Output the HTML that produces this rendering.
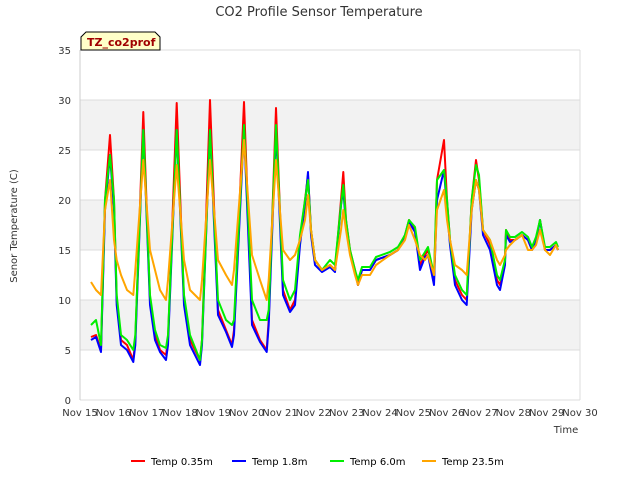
<!DOCTYPE html>
<html><head><meta charset="utf-8"><style>
body{margin:0;background:#fff;font-family:"Liberation Sans",sans-serif}
svg text{font-family:"DejaVu Sans","Liberation Sans",sans-serif}
</style></head><body>
<svg id="c" width="640" height="480" xmlns="http://www.w3.org/2000/svg">
<text x="319" y="16" text-anchor="middle" font-size="13" fill="#333">CO2 Profile Sensor Temperature</text>
<g id="plot"></g>
<text transform="translate(17,226) rotate(-90)" text-anchor="middle" font-size="10" fill="#333">Senor Temperature (C)</text>
<text x="566" y="433" text-anchor="middle" font-size="10" fill="#333">Time</text>
<g><path d="M81,50 L81,37 L86,32 L155,32 L160,37 L160,50 Z" fill="#ffffc8" stroke="#000" stroke-width="1"/><text x="87" y="46" font-size="11" font-weight="bold" fill="#a00000">TZ_co2prof</text></g>
<g id="legend"></g>
</svg>
<script>
const times=[0.33,0.48,0.63,0.75,0.9,1.02,1.1,1.23,1.41,1.6,1.66,1.9,2.1,2.25,2.4,2.58,2.64,2.9,3.12,3.3,3.6,3.66,3.9,4.14,4.38,4.56,4.62,4.92,5.16,5.4,5.6,5.66,5.88,6.09,6.3,6.45,6.6,6.75,6.84,6.93,7.05,7.26,7.5,7.65,7.83,7.9,7.98,8.1,8.25,8.34,8.46,8.7,8.88,9.3,9.54,9.75,9.87,10.05,10.2,10.35,10.44,10.62,10.71,10.92,11.01,11.1,11.25,11.46,11.6,11.75,11.88,11.97,12.09,12.3,12.51,12.6,12.75,12.78,12.9,13.05,13.26,13.44,13.56,13.68,13.8,13.95,14.1,14.28,14.34];
const red=[6.3,6.5,5,20,26.5,20,10,6,5.5,4,6,28.8,10,6.5,5,4.5,6,29.7,10,6,4,6,30,9,7,5.5,7,29.8,8,6,5,8,29.2,11,9,10,16,20,22.5,17,14,13,13.5,13,20,22.8,18,15,13,11.5,13,13,14,14.5,15,16.5,18,17,13.5,14.5,15,12,22,26,20,16,12,10.5,10,20,24,22,17,15.5,12,11.5,14,17,16,16,16.5,16,15,16,18,15,15,15.5,15];
const blue=[6,6.3,4.8,19,24.5,19,9.5,5.5,5,3.8,5.5,27,9.5,6,4.8,4,5.5,27,9.5,5.5,3.5,5.5,27,8.5,6.8,5.3,6.5,27,7.5,5.8,4.8,7.5,27,10.5,8.8,9.5,15.5,19.5,22.8,16.5,13.5,12.8,13.3,12.8,19.5,21,17.5,14.8,12.8,11.5,13,13,14,14.5,15,16.5,17.8,16.8,13,14.3,14.5,11.5,20,23,19,15.5,11.5,10,9.5,19,22,21,16.5,15,11.5,11,13.5,16.5,15.8,16,16.5,16,15,15.8,18,15,15,15.5,15];
const green=[7.5,8,5.5,20,24.5,20,10.5,6.5,6,5,6.5,27,10.5,7,5.5,5.2,6.5,27,10.5,6.5,4,6,27,10,8,7.5,8,27.5,10,8,8,9,27.5,12,10,11,16.5,20,22,17,14,13,14,13.5,19.5,21.5,18,15,13,12,13.3,13.3,14.3,14.8,15.3,16.5,18,17.3,14,14.8,15.3,12.5,22,23,20,16,12.5,11,10.5,20,23.5,22.5,17,16,12.5,12,14,17,16.3,16.3,16.8,16.3,15.3,16.3,18,15.3,15.3,15.8,15.3];
const orange=[11.8,11,10.5,19,22,16,14,12.5,11,10.5,13,24,15,13,11,10,12,23.5,14,11,10,12,24,14,12.5,11.5,13,26,14.5,12,10,12,24,15,14,14.5,16,18,20.5,17,14,13,13.5,13,17,19,17,14.5,12.5,11.5,12.5,12.5,13.5,14.5,15,16,17.5,16,14.5,14,14.5,12.5,19,21,18,16,13.5,13,12.5,19,22,21,17,16,14,13.5,14.5,15,15.5,16,16.5,15,15,15.5,17,15,14.5,15.5,15];
const yTicks=[0,5,10,15,20,25,30,35];
const xTickLabels=["Nov 15","Nov 16","Nov 17","Nov 18","Nov 19","Nov 20","Nov 21","Nov 22","Nov 23","Nov 24","Nov 25","Nov 26","Nov 27","Nov 28","Nov 29","Nov 30"];
const seriesNames=["Temp 0.35m","Temp 1.8m","Temp 6.0m","Temp 23.5m"];
const seriesColors=["#ff0000","#0000ff","#00ee00","#ffa500"];
const NS="http://www.w3.org/2000/svg";
const X0=80,X1=580,Y0=400,Y1=50;
function xs(d){return X0+(X1-X0)*d/15;}
function ys(v){return Y0-(Y0-Y1)*v/35;}
const plot=document.getElementById('plot');
function mk(tag,attrs,parent){const e=document.createElementNS(NS,tag);for(const k in attrs)e.setAttribute(k,attrs[k]);(parent||plot).appendChild(e);return e;}
for(let i=0;i<yTicks.length-1;i++){
  if(i%2===1){const b=mk('rect',{x:X0,y:ys(yTicks[i+1]),width:X1-X0,height:ys(yTicks[i])-ys(yTicks[i+1]),fill:'#f2f2f2'});
  
  }
}
yTicks.forEach(v=>{
  const l=mk('line',{x1:X0,x2:X1,y1:ys(v),y2:ys(v),stroke:'#dcdcdc','stroke-width':1});
  
  
  const t=mk('text',{x:X0-9,y:ys(v)+4,'text-anchor':'end','font-size':10,fill:'#333'});
  t.textContent=v;
  
  
});
mk('line',{x1:X0,x2:X0,y1:Y1,y2:Y0,stroke:'#ccc'});
mk('line',{x1:X1,x2:X1,y1:Y1,y2:Y0,stroke:'#ddd'});
xTickLabels.forEach((s,i)=>{
  const t=mk('text',{x:xs(i),y:416,'text-anchor':'middle','font-size':10,fill:'#333'});
  t.textContent=s;
  
  
});
[red,blue,green,orange].forEach((vals,si)=>{
  const d=vals.map((v,i)=>(i?'L':'M')+xs(times[i]).toFixed(1)+','+ys(v).toFixed(1)).join(' ');
  const p=mk('path',{d:d,fill:'none',stroke:seriesColors[si],'stroke-width':2,'stroke-linejoin':'round'});
  
  
});
const lg=document.getElementById('legend');
const lx=[131,232,330,422];
seriesNames.forEach((n,i)=>{
  const g=mk('g',{},lg);
  
  
  mk('line',{x1:lx[i],x2:lx[i]+14,y1:461,y2:461,stroke:seriesColors[i],'stroke-width':2},g);
  const t=mk('text',{x:lx[i]+20,y:465,'font-size':10,fill:'#000'},g);
  t.textContent=n;
});
</script>
</body></html>
